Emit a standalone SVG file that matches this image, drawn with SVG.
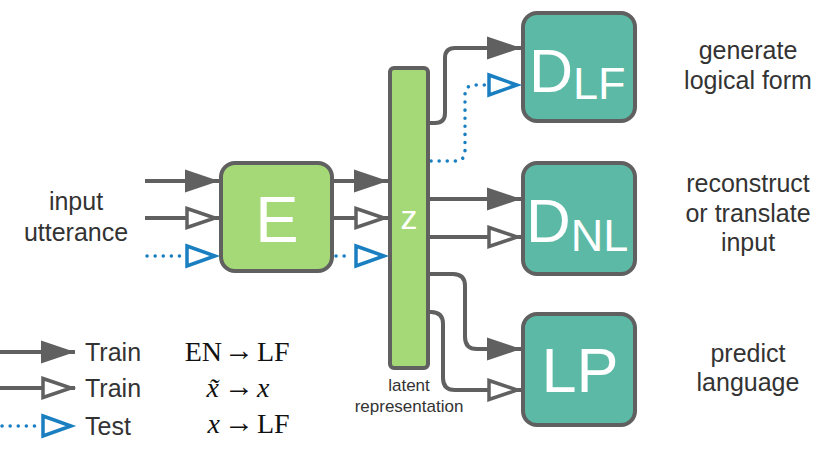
<svg xmlns="http://www.w3.org/2000/svg" width="830" height="451" viewBox="0 0 830 451">
<style>
.lbl{font-family:"Liberation Sans",Arial,sans-serif;font-size:25px;fill:#333333;text-anchor:middle}
.small{font-family:"Liberation Sans",Arial,sans-serif;font-size:17px;fill:#333333;text-anchor:middle}
.leg{font-family:"Liberation Sans",Arial,sans-serif;font-size:25px;fill:#333333}
.math{font-family:"Liberation Serif","Times New Roman",serif;font-size:28px;fill:#111111}
.arr{font-family:"Liberation Serif","Times New Roman",serif;font-size:30px;fill:#111111;text-anchor:middle}
.mi{font-style:italic}
.box{stroke:#606060;stroke-width:4}
.green{fill:#a5d877}
.teal{fill:#5bb9a6}
.big{font-family:"Liberation Sans",Arial,sans-serif;fill:#ffffff}
.solid{fill:none;stroke:#606060;stroke-width:4}
.dot{fill:none;stroke:#1a7fc1;stroke-width:3.5;stroke-dasharray:0.1 8;stroke-linecap:round}
</style>
<defs>
<marker id="af" viewBox="0 0 36 26" refX="35" refY="13" markerWidth="36" markerHeight="26" markerUnits="userSpaceOnUse" orient="auto" overflow="visible">
<path d="M1,1.5 L35,13 L1,24.5 Z" fill="#606060"/>
</marker>
<marker id="ao" viewBox="0 0 36 26" refX="35" refY="13" markerWidth="36" markerHeight="26" markerUnits="userSpaceOnUse" orient="auto" overflow="visible">
<path d="M3,3.5 L31,13 L3,22.5 Z" fill="#ffffff" stroke="#606060" stroke-width="3.5"/>
</marker>
<marker id="ab" viewBox="0 0 36 26" refX="35" refY="13" markerWidth="36" markerHeight="26" markerUnits="userSpaceOnUse" orient="auto" overflow="visible">
<path d="M3,3 L31,13 L3,23 Z" fill="#ffffff" stroke="#1a7fc1" stroke-width="3.5"/>
</marker>
</defs>
<rect width="830" height="451" fill="#ffffff"/>

<g id="connectors">
<path class="solid" d="M145,181 H219" marker-end="url(#af)"/>
<path class="solid" d="M145,218 H219" marker-end="url(#ao)"/>
<path class="dot" d="M147,256 H195"/>
<path d="M185,256 H219" fill="none" stroke="none" marker-end="url(#ab)"/>
<path class="solid" d="M334,181 H388" marker-end="url(#af)"/>
<path class="solid" d="M334,218 H388" marker-end="url(#ao)"/>
<path class="dot" d="M336,256 H352"/>
<path d="M354,256 H388" fill="none" stroke="none" marker-end="url(#ab)"/>
<path class="solid" d="M429,123 H435 Q445,123 445,113 V58 Q445,48 455,48 H521" marker-end="url(#af)"/>
<path class="dot" d="M431,161 H455 Q465,161 465,151 V95 Q465,85 475,85 H488"/>
<path d="M487,85 H521" fill="none" stroke="none" marker-end="url(#ab)"/>
<path class="solid" d="M429,199 H521" marker-end="url(#af)"/>
<path class="solid" d="M429,237 H521" marker-end="url(#ao)"/>
<path class="solid" d="M429,274 H453 Q465,274 465,286 V337 Q465,349 477,349 H521" marker-end="url(#af)"/>
<path class="solid" d="M429,312 H431 Q443,312 443,324 V378 Q443,390 455,390 H521" marker-end="url(#ao)"/>
</g>

<g id="E">
<rect class="box green" x="221" y="163" width="111" height="108" rx="14"/>
<text class="big" x="277" y="242" font-size="65" text-anchor="middle">E</text>
</g>

<g id="z">
<rect class="box green" x="390" y="68" width="38" height="300" rx="4"/>
<text class="big" x="409" y="229" font-size="34" text-anchor="middle">z</text>
</g>

<g id="DLF">
<rect class="box teal" x="523" y="13" width="112" height="108" rx="14"/>
<text class="big" x="529" y="92" font-size="61">D<tspan font-size="45" dy="7">LF</tspan></text>
</g>

<g id="DNL">
<rect class="box teal" x="523" y="163" width="112" height="111" rx="14"/>
<text class="big" x="526" y="242" font-size="62">D<tspan font-size="45" dy="9">NL</tspan></text>
</g>

<g id="LP">
<rect class="box teal" x="523" y="314" width="112" height="111" rx="14"/>
<text class="big" x="580" y="392" font-size="63" text-anchor="middle">LP</text>
</g>

<g id="labels">
<text class="lbl" x="76" y="210">input</text>
<text class="lbl" x="76" y="241">utterance</text>
<text class="small" x="409" y="391">latent</text>
<text class="small" x="409" y="412">representation</text>
<text class="lbl" x="748" y="59">generate</text>
<text class="lbl" x="748" y="89">logical form</text>
<text class="lbl" x="748" y="192">reconstruct</text>
<text class="lbl" x="748" y="222">or translate</text>
<text class="lbl" x="748" y="251">input</text>
<text class="lbl" x="748" y="362">predict</text>
<text class="lbl" x="748" y="391">language</text>
</g>

<g id="legend">
<path class="solid" d="M0,352 H75" marker-end="url(#af)"/>
<path class="solid" d="M0,388 H75" marker-end="url(#ao)"/>
<path class="dot" d="M2,426 H36"/>
<path d="M41,426 H75" fill="none" stroke="none" marker-end="url(#ab)"/>
<text class="leg" x="85" y="361">Train</text>
<text class="leg" x="85" y="397">Train</text>
<text class="leg" x="85" y="435">Test</text>
<text class="math" x="222" y="361" text-anchor="end">EN</text>
<text class="arr" x="239" y="360">→</text>
<text class="math" x="257" y="361">LF</text>
<text class="math mi" x="219" y="397" text-anchor="end">x̃</text>
<text class="arr" x="239" y="396">→</text>
<text class="math mi" x="257" y="397">x</text>
<text class="math mi" x="220" y="433" text-anchor="end">x</text>
<text class="arr" x="239" y="432">→</text>
<text class="math" x="257" y="433">LF</text>
</g>
</svg>
